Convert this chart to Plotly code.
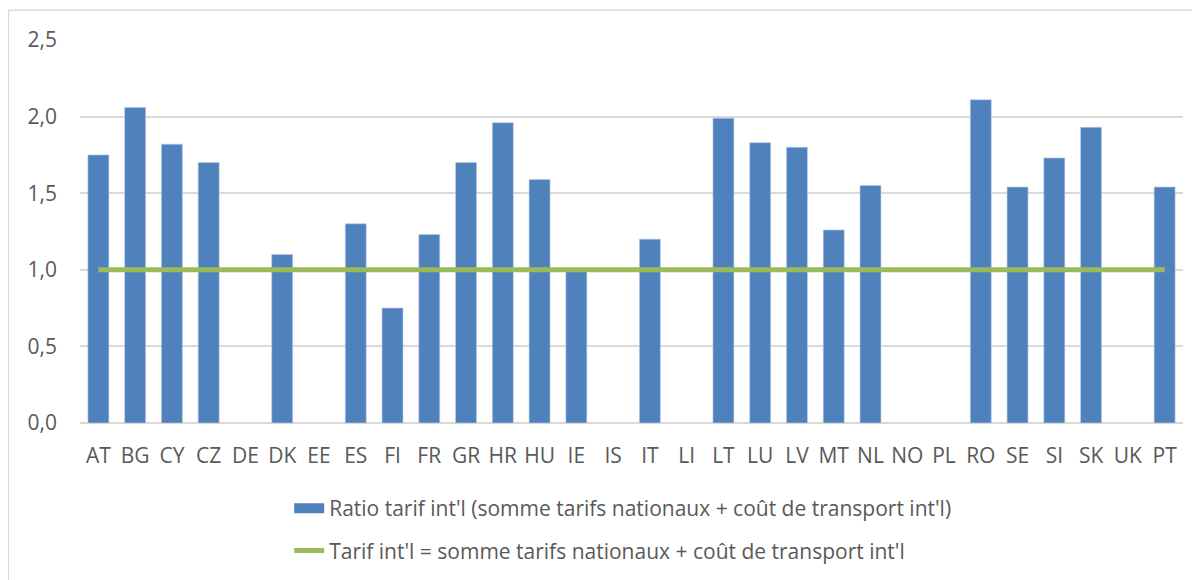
import plotly.graph_objects as go

# Pays
pays = ["AT", "BG", "CY", "CZ", "DE", "DK", "EE", "ES", "FI", "FR",
        "GR", "HR", "HU", "IE", "IS", "IT", "LI", "LT", "LU", "LV",
        "MT", "NL", "NO", "PL", "RO", "SE", "SI", "SK", "UK", "PT"]

# Ratio tarif international (None = pas de donnée)
ratio = [1.75, 2.06, 1.82, 1.70, None, 1.10, None, 1.30, 0.75, 1.23,
         1.70, 1.96, 1.59, 0.99, None, 1.20, None, 1.99, 1.83, 1.80,
         1.26, 1.55, None, None, 2.11, 1.54, 1.73, 1.93, None, 1.54]

# Ligne de référence
reference = [1.0, 1.0, 1.0, 1.0, 1.0, 1.0, 1.0, 1.0, 1.0, 1.0,
             1.0, 1.0, 1.0, 1.0, 1.0, 1.0, 1.0, 1.0, 1.0, 1.0,
             1.0, 1.0, 1.0, 1.0, 1.0, 1.0, 1.0, 1.0, 1.0, 1.0]

nom_ratio = "Ratio tarif int'l (somme tarifs nationaux + coût de transport int'l)"
nom_ref = "Tarif int'l = somme tarifs nationaux + coût de transport int'l"

bleu = "#4F81BD"
vert = "#9BBB59"
police = "Open Sans, sans-serif"

fig = go.Figure()

fig.add_trace(go.Bar(
    x=pays,
    y=ratio,
    name=nom_ratio,
    showlegend=False,
    marker=dict(color=bleu, line=dict(color="#B9CDE5", width=0.6)),
))

# entrée de légende en forme de bandeau (comme Excel)
fig.add_trace(go.Scatter(
    x=[None],
    y=[None],
    mode="lines",
    name=nom_ratio,
    legendgroup="a",
    line=dict(color=bleu, width=13),
))

fig.add_trace(go.Scatter(
    x=pays,
    y=reference,
    mode="lines",
    name=nom_ref,
    legendgroup="b",
    line=dict(color=vert, width=5),
))

# la page ajoute 8 px de marge au body : on compense
fig.update_layout(
    width=1200,
    height=580,
    paper_bgcolor="white",
    plot_bgcolor="white",
    separators=", ",
    bargap=0.43,
    margin=dict(l=72, r=25, t=32, b=165),
    font=dict(family=police, size=21, color="#595959"),
    showlegend=True,
    legend=dict(
        orientation="v",
        traceorder="grouped",
        x=0.492, xanchor="center",
        y=-0.17, yanchor="top",
        tracegroupgap=12,
        font=dict(size=21, color="#595959"),
    ),
    shapes=[dict(
        type="rect", xref="paper", yref="paper",
        x0=-0.065, x1=1.1, y0=-0.6, y1=1.078,
        line=dict(color="#D9D9D9", width=1.5),
    )],
)

fig.update_xaxes(
    type="category",
    showgrid=False,
    showline=False,
    ticks="",
    ticklabelstandoff=18,
)

fig.update_yaxes(
    range=[0, 2.5],
    dtick=0.5,
    tickformat=".1f",
    showgrid=True,
    gridcolor="#D9D9D9",
    gridwidth=1.5,
    zeroline=True,
    zerolinecolor="#D9D9D9",
    zerolinewidth=1.5,
    ticks="",
    ticklabelstandoff=22,
)

fig.write_html("out.html")
